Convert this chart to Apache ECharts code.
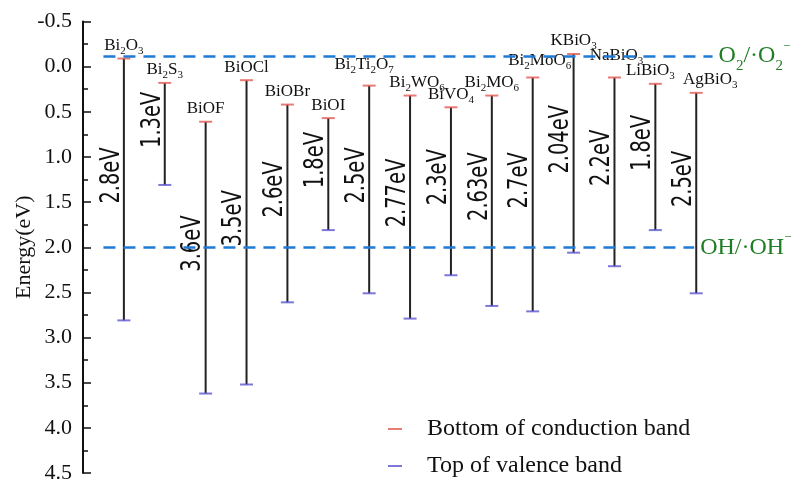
<!DOCTYPE html>
<html>
<head>
<meta charset="utf-8">
<script src="https://cdn.jsdelivr.net/npm/echarts@6/dist/echarts.min.js"></script>
<style>
  html, body { margin: 0; padding: 0; background: #fff; }
  #main { width: 792px; height: 479px; }
</style>
</head>
<body>
<div id="main"></div>
<script>
// materials, left to right
const materials = ['Bi2O3', 'Bi2S3', 'BiOF', 'BiOCl', 'BiOBr', 'BiOI', 'Bi2Ti2O7', 'Bi2WO6',
    'BiVO4', 'Bi2MO6', 'Bi2MoO6', 'KBiO3', 'NaBiO3', 'LiBiO3', 'AgBiO3'];
// bottom of conduction band (eV)
const cbEdge = [-0.09, 0.18, 0.61, 0.15, 0.42, 0.57, 0.21, 0.32, 0.45, 0.32, 0.12, -0.14, 0.12, 0.19, 0.29];
// top of valence band (eV)
const vbEdge = [2.81, 1.31, 3.62, 3.52, 2.61, 1.81, 2.51, 2.79, 2.31, 2.65, 2.71, 2.06, 2.21, 1.81, 2.51];
// band gap labels
const gapText = ['2.8', '1.3', '3.6', '3.5', '2.6', '1.8', '2.5', '2.77', '2.3', '2.63', '2.7', '2.04', '2.2', '1.8', '2.5'];
// redox levels
const o2Level = -0.12;
const ohLevel = 2.0;
const yTicks = [-0.5, 0.0, 0.5, 1.0, 1.5, 2.0, 2.5, 3.0, 3.5, 4.0, 4.5];

// small nudges (px) for crowded name labels
const labelNudge = {
    Bi2Ti2O7: [-5, -8], Bi2WO6: [7, 0], Bi2MoO6: [7, -4],
    NaBiO3: [2, -9], LiBiO3: [-5, 0], AgBiO3: [14, 0]
};

const serif = '"Liberation Serif", "Times New Roman", serif';
const narrow = '"Liberation Sans Narrow", "Arial Narrow", "DejaVu Sans Condensed", sans-serif';
const RED = '#e35a55';
const BLUE = '#5b55cf';
const DASH = '#1f7bd6';
const GREEN = '#1f7d24';

// 'Bi2O3' -> rich text with subscripts
function formula(name) {
    return name.replace(/(\d+)|(\D+)/g, (m, d, t) => d ? '{s|' + d + '}' : '{n|' + t + '}');
}

const xs = materials.map((m, i) => i + 1);
const bandData = materials.map((m, i) => [xs[i], cbEdge[i], vbEdge[i]]);

var myChart = echarts.init(document.getElementById('main'));

var option = {
    animation: false,
    grid: { left: 83, right: 14, top: 21.5, bottom: 6, containLabel: false, outerBoundsMode: 'none' },
    xAxis: { type: 'value', min: 0, max: 17, show: false },
    yAxis: {
        type: 'value',
        inverse: true,
        min: yTicks[0],
        max: yTicks[yTicks.length - 1],
        interval: 0.5,
        name: 'Energy(eV)',
        nameLocation: 'middle',
        nameGap: 48,
        nameMoveOverlap: false,
        nameRotate: 90,
        nameTextStyle: { fontFamily: serif, fontSize: 22, color: '#111' },
        axisLine: { show: true, lineStyle: { color: '#111', width: 2 } },
        axisTick: { show: true, inside: true, length: 8, lineStyle: { color: '#111', width: 1.5 } },
        minorTick: { show: true, splitNumber: 2, length: 5, lineStyle: { color: '#111', width: 1.5 } },
        splitLine: { show: false },
        axisLabel: {
            fontFamily: serif, fontSize: 22, color: '#111', margin: 11,
            formatter: v => v.toFixed(1)
        }
    },
    legend: {
        orient: 'vertical',
        left: 388,
        top: 417,
        padding: 0,
        itemWidth: 14,
        itemHeight: 2,
        itemGap: 13,
        icon: 'rect',
        data: ['Bottom of conduction band', 'Top of valence band'],
        textStyle: { fontFamily: serif, fontSize: 24, color: '#111', padding: [0, 0, 0, 20] }
    },
    series: [
        {
            type: 'custom',
            name: 'bands',
            data: bandData,
            z: 2,
            renderItem: function (params, api) {
                const i = params.dataIndex;
                const top = api.coord([api.value(0), api.value(1)]);
                const bot = api.coord([api.value(0), api.value(2)]);
                const midY = (top[1] + bot[1]) / 2;
                const nudge = labelNudge[materials[i]] || [0, 0];
                return {
                    type: 'group',
                    children: [
                        {
                            type: 'line',
                            shape: { x1: top[0], y1: top[1], x2: bot[0], y2: bot[1] },
                            style: { stroke: '#222', lineWidth: 2 }
                        },
                        {
                            type: 'text',
                            x: top[0] + nudge[0],
                            y: top[1] - 2 + nudge[1],
                            style: {
                                text: formula(materials[i]),
                                align: 'center',
                                verticalAlign: 'bottom',
                                rich: {
                                    n: { align: 'left', fontFamily: serif, fontSize: 17, fill: '#111', lineHeight: 22, verticalAlign: 'middle' },
                                    s: { align: 'left', fontFamily: serif, fontSize: 11, fill: '#111', lineHeight: 11, verticalAlign: 'bottom' }
                                }
                            }
                        },
                        {
                            type: 'text',
                            x: top[0] - 12,
                            y: midY - 14,
                            rotation: Math.PI / 2,
                            scaleX: 0.83,
                            style: {
                                text: gapText[i] + 'eV',
                                align: 'center',
                                verticalAlign: 'middle',
                                fontFamily: narrow,
                                fontSize: 26,
                                fill: '#111'
                            }
                        }
                    ]
                };
            },
            markLine: {
                silent: true,
                symbol: ['none', 'none'],
                lineStyle: { color: DASH, width: 2.5, type: [12, 8] },
                label: {
                    show: true,
                    position: 'end',
                    distance: 6,
                    rich: {
                        n: { fontFamily: serif, fontSize: 24, color: GREEN },
                        s: { fontFamily: serif, fontSize: 15, color: GREEN, verticalAlign: 'bottom', padding: [0, 0, -6, 0] },
                        p: { fontFamily: serif, fontSize: 13, color: GREEN, verticalAlign: 'top', padding: [-4, 0, 0, 0] }
                    }
                },
                data: [
                    [
                        { coord: [0.5, o2Level], label: { formatter: '{n|O}{s|2}{n|/·O}{s|2}{p|−}' } },
                        { coord: [15.4, o2Level] }
                    ],
                    [
                        { coord: [0.5, ohLevel], label: { formatter: '{n|OH/·OH}{p|−}' } },
                        { coord: [14.95, ohLevel] }
                    ]
                ]
            }
        },
        {
            type: 'scatter',
            name: 'Bottom of conduction band',
            data: xs.map((x, i) => [x, cbEdge[i]]),
            symbol: 'rect',
            symbolSize: [13, 2],
            itemStyle: { color: RED },
            z: 3
        },
        {
            type: 'scatter',
            name: 'Top of valence band',
            data: xs.map((x, i) => [x, vbEdge[i]]),
            symbol: 'rect',
            symbolSize: [13, 2],
            itemStyle: { color: BLUE },
            z: 3
        }
    ]
};

myChart.setOption(option);
</script>
</body>
</html>
